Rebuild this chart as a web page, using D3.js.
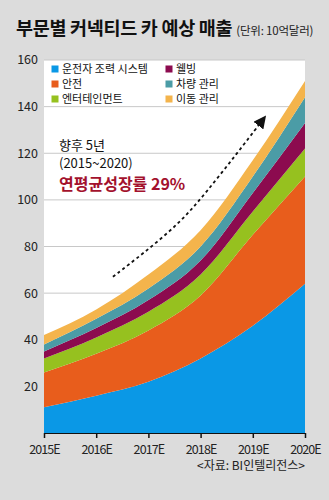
<!DOCTYPE html>
<html>
<head>
<meta charset="utf-8">
<script src="https://cdn.jsdelivr.net/npm/d3@7"></script>
<style>
  body { margin: 0; background: #dcdcdc; }
  svg { display: block; font-family: "Noto Sans CJK KR", "Noto Sans", sans-serif; }
</style>
</head>
<body>
<svg></svg>
<script>
// data (10억달러)
let years = ["2015E", "2016E", "2017E", "2018E", "2019E", "2020E"]
let seriesNames = ["운전자 조력 시스템", "안전", "엔터테인먼트", "웰빙", "차량 관리", "이동 관리"]
let driverAssist = [11, 16, 22, 32, 46, 64]
let safety = [15, 18, 22, 27, 39, 46]
let entertainment = [6, 7, 8, 9, 10, 12]
let wellbeing = [3, 4, 5, 6, 8, 11]
let vehicleMgmt = [3, 4, 5, 6, 7, 11]
let mobilityMgmt = [4, 4, 6, 7, 7, 7]
let yTicks = [20, 40, 60, 80, 100, 120, 140, 160]
let colors = ["#0a98e6", "#e85d1c", "#96c11f", "#8c0b4f", "#4b9ca6", "#f4b44c"]

// arrow path in (year index, value) space
let arrowPts = [[1.32, 67], [1.9, 77], [2.6, 90], [3.1, 103], [3.7, 120], [4.18, 134]]

let width = 329
let height = 500
let plotLeft = 44
let plotRight = 305
let plotTop = 60
let plotBottom = 433

let svg = d3.select("svg").attr("width", width).attr("height", height)

let rows = years.map((y, i) => ({
    year: y,
    s0: driverAssist[i], s1: safety[i], s2: entertainment[i],
    s3: wellbeing[i], s4: vehicleMgmt[i], s5: mobilityMgmt[i]
}))
let keys = ["s0", "s1", "s2", "s3", "s4", "s5"]
let stacked = d3.stack().keys(keys)(rows)

let xScale = d3.scaleLinear().domain([0, years.length - 1]).range([plotLeft, plotRight])
let yScale = d3.scaleLinear().domain([0, 160]).range([plotBottom, plotTop])

// title
svg.append("text")
    .attr("x", 16).attr("y", 35)
    .attr("font-size", 18.5).attr("font-weight", 700).attr("fill", "#111")
    .attr("letter-spacing", -0.3)
    .text("부문별 커넥티드 카 예상 매출")
    .append("tspan")
    .attr("dx", 4)
    .attr("font-size", 11.5).attr("font-weight", 400).attr("fill", "#222")
    .attr("letter-spacing", -0.2)
    .text("(단위: 10억달러)")

// plot background
svg.append("rect")
    .attr("x", plotLeft).attr("y", plotTop)
    .attr("width", plotRight - plotLeft).attr("height", plotBottom - plotTop)
    .attr("fill", "#fff")

// gridlines
svg.append("g")
    .selectAll("line")
    .data(yTicks)
    .enter()
    .append("line")
    .attr("x1", plotLeft).attr("x2", plotRight)
    .attr("y1", d => yScale(d)).attr("y2", d => yScale(d))
    .attr("stroke", "#c8c8c8").attr("stroke-width", 1)

// y labels
svg.append("g")
    .selectAll("text")
    .data(yTicks)
    .enter()
    .append("text")
    .attr("x", 38).attr("y", d => yScale(d))
    .attr("dy", "0.35em")
    .attr("text-anchor", "end")
    .attr("font-size", 12.5).attr("fill", "#222")
    .text(d => d)

// areas
let area = d3.area()
    .x((d, i) => xScale(i))
    .y0(d => yScale(d[0]))
    .y1(d => yScale(d[1]))
    .curve(d3.curveMonotoneX)

svg.append("g")
    .selectAll("path")
    .data(stacked)
    .enter()
    .append("path")
    .attr("d", area)
    .attr("fill", (d, i) => colors[i])

// x axis
let xAxis = d3.axisBottom(xScale)
    .tickValues(d3.range(years.length))
    .tickFormat(i => years[i])
    .tickSize(5)
    .tickSizeOuter(0)

let gx = svg.append("g")
    .attr("transform", "translate(0," + plotBottom + ")")
    .call(xAxis)
gx.select(".domain").attr("stroke", "#111").attr("stroke-width", 1.2)
gx.selectAll(".tick line").attr("stroke", "#111").attr("stroke-width", 1.5)
gx.selectAll(".tick text")
    .attr("font-family", "\"Noto Sans CJK KR\", sans-serif")
    .attr("font-size", 12.5).attr("fill", "#222")
    .attr("y", 12)
    .attr("letter-spacing", -0.9)

// legend
let legend = svg.append("g")
let legendPos = [[55, 69], [55, 84], [55, 99], [169, 69], [169, 84], [169, 99]]
legend.append("rect")
    .attr("x", 50).attr("y", 61).attr("width", 230).attr("height", 44)
    .attr("fill", "#fff")
seriesNames.forEach((name, i) => {
    let g = legend.append("g").attr("transform", "translate(" + legendPos[i][0] + "," + legendPos[i][1] + ")")
    g.append("rect").attr("x", -3.5).attr("y", -3.5).attr("width", 7).attr("height", 7).attr("fill", colors[i])
    g.append("text").attr("x", 7).attr("dy", "0.35em")
        .attr("font-size", 11).attr("fill", "#111")
        .text(name)
})

// annotation
svg.append("text").attr("x", 59).attr("y", 150)
    .attr("font-size", 13).attr("fill", "#111").text("향후 5년")
svg.append("text").attr("x", 59).attr("y", 168)
    .attr("font-size", 13).attr("fill", "#111").text("(2015~2020)")
svg.append("text").attr("x", 59).attr("y", 190)
    .attr("font-size", 16).attr("font-weight", 700).attr("fill", "#a3112d")
    .text("연평균성장률 29%")

svg.append("defs").append("marker")
    .attr("id", "arrow")
    .attr("viewBox", "0 0 10 10")
    .attr("refX", 5).attr("refY", 5)
    .attr("markerWidth", 7).attr("markerHeight", 7)
    .attr("orient", "auto")
    .append("path")
    .attr("d", "M0,0 L10,5 L0,10 Z")
    .attr("fill", "#111")

let arrowLine = d3.line()
    .x(d => xScale(d[0]))
    .y(d => yScale(d[1]))
    .curve(d3.curveBasis)

svg.append("path")
    .attr("d", arrowLine(arrowPts))
    .attr("fill", "none")
    .attr("stroke", "#111")
    .attr("stroke-width", 1.8)
    .attr("stroke-dasharray", "3,3")
    .attr("marker-end", "url(#arrow)")

// source
svg.append("text")
    .attr("x", 305).attr("y", 470)
    .attr("text-anchor", "end")
    .attr("font-size", 12).attr("fill", "#222")
    .text("<자료: BI인텔리전스>")
</script>
</body>
</html>
